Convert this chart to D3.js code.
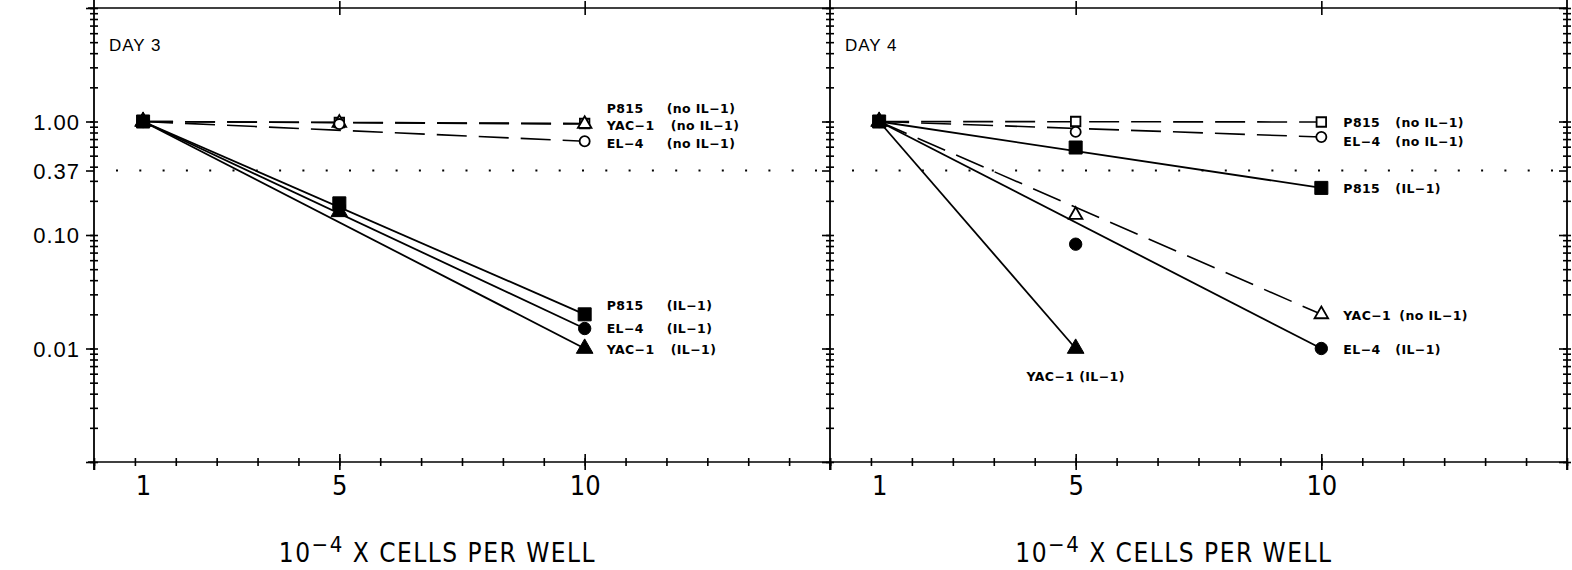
<!DOCTYPE html>
<html>
<head>
<meta charset="utf-8">
<script src="https://cdn.jsdelivr.net/npm/d3@7"></script>
<style>
  body { margin: 0; background: white; }
  svg { display: block; }
  text { fill: black; }
</style>
</head>
<body>
<svg id="graph"></svg>
<script>
const width = 1572;
const height = 570;

// data
const cells = [1, 5, 10];
const yTickVals = [1, 0.37, 0.1, 0.01];
const yTickLabels = ["1.00", "0.37", "0.10", "0.01"];
const xTickVals = [1, 5, 10];
const days = ["DAY 3", "DAY 4"];

const day3Names = ["P815", "YAC-1", "EL-4", "P815", "EL-4", "YAC-1"];
const day3Cond = ["(no IL-1)", "(no IL-1)", "(no IL-1)", "(IL-1)", "(IL-1)", "(IL-1)"];
const day3Marker = ["square", "triangle", "circle", "square", "circle", "triangle"];
const day3Values = [
  [1, 0.98, 0.96],
  [1, 0.97, 0.95],
  [1, 0.95, 0.67],
  [1, 0.19, 0.020],
  [1, 0.176, 0.015],
  [1, 0.16, 0.010]
];

const day4Names = ["P815", "EL-4", "P815", "YAC-1", "EL-4", "YAC-1"];
const day4Cond = ["(no IL-1)", "(no IL-1)", "(IL-1)", "(no IL-1)", "(IL-1)", "(IL-1)"];
const day4Marker = ["square", "circle", "square", "triangle", "circle", "triangle"];
const day4Values = [
  [1, 1.0, 0.99],
  [1, 0.81, 0.73],
  [1, 0.59, 0.26],
  [1, 0.15, 0.020],
  [1, 0.083, 0.010],
  [1, 0.010, null]
];

let svg = d3.select('#graph')
        .attr('width', width)
        .attr('height', height);

const top_ = 8, bottom = 462;
const numFont = '"Liberation Sans", Arial, sans-serif';
const narrowFont = '"Liberation Sans Narrow", "DejaVu Sans Condensed", sans-serif';
const labFont = '"DejaVu Sans", sans-serif';

let y = d3.scaleLog().domain([0.001, 10]).range([bottom, top_]);
let minorY = y.ticks();
let majorY = [0.001, 0.01, 0.1, 1, 10];

function build(names, cond, marker, values) {
  return names.map((n, i) => ({
    name: n, cond: cond[i], marker: marker[i],
    il1: cond[i] === "(IL-1)",
    pts: cells.map((c, j) => ({x: c, v: values[i][j]})).filter(p => p.v !== null)
  }));
}

const panels = [
  {x0: 94, x1: 830, day: days[0], series: build(day3Names, day3Cond, day3Marker, day3Values),
   // label nudges in px (text y relative to last marker), condition column offset
   nudge: [-16, 1, 2, -9, -1, 0], condDx: 82},
  {x0: 830, x1: 1567, day: days[1], series: build(day4Names, day4Cond, day4Marker, day4Values),
   nudge: [0, 4, 0, 1, 0, 0], condDx: 74}
];

function noDomain(g) { g.select('.domain').remove(); }

panels.forEach((p, pi) => {
  let g = svg.append('g');
  let x = d3.scaleLinear().domain([0, 15]).range([p.x0, p.x1]);
  let minorX = d3.range(0, 15.001, 5 / 6);

  // frame
  g.append('line').attr('x1', p.x0 - (pi === 0 ? 6 : 0)).attr('x2', p.x1 + 1)
    .attr('y1', top_).attr('y2', top_).attr('stroke', 'black').attr('stroke-width', 1.6);
  g.append('line').attr('x1', p.x0 - (pi === 0 ? 6 : 0)).attr('x2', p.x1 + 1)
    .attr('y1', bottom).attr('y2', bottom).attr('stroke', 'black').attr('stroke-width', 1.6);
  g.append('line').attr('x1', p.x0).attr('x2', p.x0)
    .attr('y1', top_ - 8).attr('y2', bottom + 8).attr('stroke', 'black').attr('stroke-width', 1.8);
  if (pi === 1) {
    g.append('line').attr('x1', p.x1).attr('x2', p.x1)
      .attr('y1', top_ - 8).attr('y2', bottom + 8).attr('stroke', 'black').attr('stroke-width', 1.8);
  }

  // y ticks on the vertical axes
  let vx = pi === 0 ? [p.x0] : [p.x0, p.x1];
  vx.forEach(ax => {
    g.append('g').attr('transform', `translate(${ax},0)`)
      .call(d3.axisLeft(y).tickValues(minorY).tickSize(4).tickFormat('')).call(noDomain);
    g.append('g').attr('transform', `translate(${ax},0)`)
      .call(d3.axisRight(y).tickValues(minorY).tickSize(4).tickFormat('')).call(noDomain);
    g.append('g').attr('transform', `translate(${ax},0)`)
      .call(d3.axisLeft(y).tickValues(majorY.concat([0.37])).tickSize(8).tickFormat('')).call(noDomain);
  });
  g.selectAll('.tick line').attr('stroke-width', 1.6);

  if (pi === 0) {
    let yl = g.append('g').attr('transform', `translate(${p.x0},0)`)
      .call(d3.axisLeft(y).tickValues(yTickVals).tickSize(0).tickPadding(14)
        .tickFormat((d, i) => yTickLabels[i])).call(noDomain);
    yl.selectAll('text').style('font-family', numFont).style('font-size', '22px')
      .style('letter-spacing', '1px').attr('dy', '0.35em');
  }

  // x ticks
  let xb = g.append('g').attr('transform', `translate(0,${bottom})`);
  xb.append('g').call(d3.axisBottom(x).tickValues(minorX).tickSize(4).tickFormat('')).call(noDomain);
  xb.append('g').call(d3.axisTop(x).tickValues(minorX).tickSize(4).tickFormat('')).call(noDomain);
  xb.append('g').call(d3.axisBottom(x).tickValues([0, 5, 10, 15]).tickSize(8).tickFormat('')).call(noDomain);
  xb.append('g').call(d3.axisTop(x).tickValues([5, 10]).tickSize(8).tickFormat('')).call(noDomain);
  xb.selectAll('.tick line').attr('stroke-width', 1.6);
  let xl = xb.append('g').call(d3.axisBottom(x).tickValues(xTickVals).tickSize(0).tickPadding(14)).call(noDomain);
  xl.selectAll('text').style('font-family', narrowFont).style('font-size', '27px');

  let xt = g.append('g').attr('transform', `translate(0,${top_})`);
  xt.append('g').call(d3.axisTop(x).tickValues([5, 10]).tickSize(7).tickFormat('')).call(noDomain);
  xt.append('g').call(d3.axisBottom(x).tickValues([5, 10]).tickSize(7).tickFormat('')).call(noDomain);
  xt.selectAll('.tick line').attr('stroke-width', 1.6);

  // axis title
  let t = g.append('text').attr('x', x(7)).attr('y', 562).attr('text-anchor', 'middle')
    .style('font-family', narrowFont).style('font-size', '26px').style('letter-spacing', '1.5px');
  t.append('tspan').text('10');
  t.append('tspan').attr('dy', -10).style('font-size', '22px').text('\u22124');
  t.append('tspan').attr('dy', 10).text(' X CELLS PER WELL');

  // day label
  g.append('text').attr('x', p.x0 + 15).attr('y', 51).text(p.day)
    .style('font-family', numFont).style('font-size', '17px').style('letter-spacing', '1px');

  // dotted 0.37 reference
  g.append('line').attr('x1', p.x0 + 22).attr('x2', p.x1 - 2)
    .attr('y1', y(0.37)).attr('y2', y(0.37))
    .attr('stroke', 'black').attr('stroke-width', 2.2)
    .attr('stroke-dasharray', '2,21.3');

  // lines: first to last point
  let line = d3.line().x(d => x(d.x)).y(d => y(d.v));
  p.series.forEach(s => {
    let ends = [s.pts[0], s.pts[s.pts.length - 1]];
    g.append('path').datum(ends).attr('d', line)
      .attr('fill', 'none').attr('stroke', 'black')
      .attr('stroke-width', s.il1 ? 1.8 : 1.6)
      .attr('stroke-dasharray', s.il1 ? null : '30,12');
  });

  // markers
  let sym = {square: d3.symbolSquare, circle: d3.symbolCircle, triangle: d3.symbolTriangle};
  let order = p.series.slice().sort((a, b) => (a.il1 && a.marker === 'square') - (b.il1 && b.marker === 'square'));
  order.forEach(s => {
    let size = s.il1 ? (s.marker === 'square' ? 170 : 120) : (s.marker === 'square' ? 90 : 80);
    g.selectAll(null).data(s.pts).enter().append('path')
      .attr('transform', d => `translate(${x(d.x)},${y(d.v)})`)
      .attr('d', d3.symbol().type(sym[s.marker]).size(size))
      .attr('fill', s.il1 ? 'black' : 'white')
      .attr('stroke', 'black').attr('stroke-width', s.il1 ? 1 : 1.8);
  });

  // series labels
  p.series.forEach((s, i) => {
    let last = s.pts[s.pts.length - 1];
    let lab;
    if (last.x === 10) {
      lab = g.append('text').attr('x', x(10) + 22).attr('y', y(last.v) + p.nudge[i] + 5);
      lab.append('tspan').text(s.name.replace('-', '\u2212'));
      lab.append('tspan').attr('x', x(10) + p.condDx + (s.name === 'YAC-1' ? 4 : 0)).text(s.cond.replace('-', '\u2212'));
    } else {
      lab = g.append('text').attr('x', x(last.x)).attr('y', y(last.v) + 32)
        .attr('text-anchor', 'middle').text((s.name + ' ' + s.cond).replace(/-/g, '\u2212'));
    }
    lab.style('font-family', labFont).style('font-size', '12.5px').style('font-weight', 'bold')
      .style('letter-spacing', '0.4px');
  });
});
</script>
</body>
</html>
